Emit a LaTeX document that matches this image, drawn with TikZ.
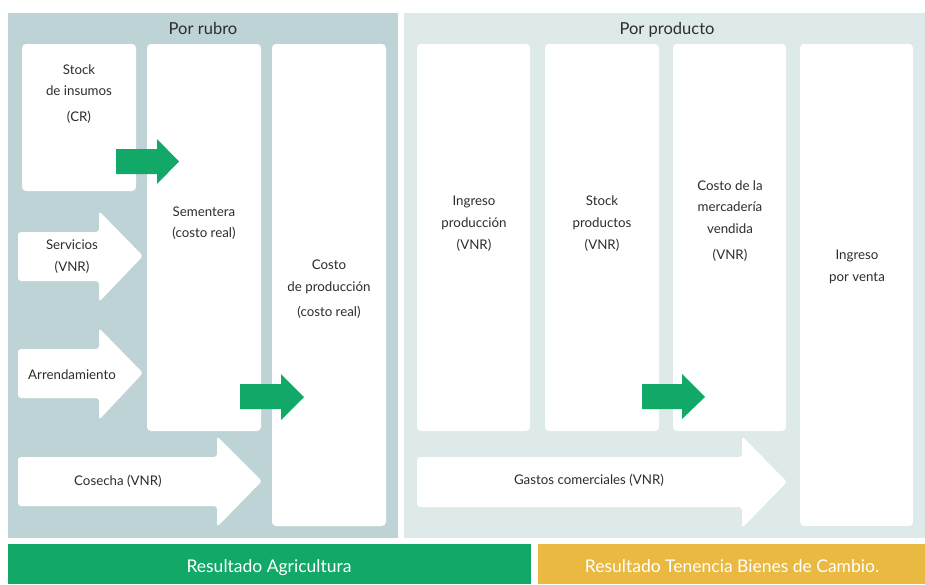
\documentclass[tikz,border=0pt]{standalone}
\usepackage{fontspec}
\setmainfont{Lato}
\definecolor{panelL}{RGB}{189,211,213}
\definecolor{panelR}{RGB}{222,233,233}
\definecolor{gr}{RGB}{18,168,104}
\definecolor{yl}{RGB}{233,185,66}
\definecolor{txt}{RGB}{45,45,45}
\begin{document}
\begin{tikzpicture}[x=1pt,y=-1pt,
  box/.style={fill=white,rounded corners=4pt},
  lbl/.style={text=txt,font=\fontsize{13.3}{15}\selectfont,inner sep=0pt,anchor=base},
  ttl/.style={text=txt,font=\fontsize{16.5}{18}\selectfont,inner sep=0pt,anchor=base},
  bar/.style={text=white,font=\fontsize{17.5}{19}\selectfont,inner sep=0pt,anchor=base},
  warrow/.style={fill=white,rounded corners=3pt},
  garrow/.style={fill=gr}]
\useasboundingbox (0,0) rectangle (925,584);
\fill[white] (0,0) rectangle (925,584);
% panels
\fill[panelL] (8,13) rectangle (398,538);
\fill[panelR] (404,13) rectangle (925,538);
\node[ttl] (t1) at (203,34) {Por rubro};
\node[ttl] (t2) at (667,34) {Por producto};
% left boxes
\fill[box] (22,44) rectangle (136,191);
\fill[box] (147,44) rectangle (261,431);
\fill[box] (272,44) rectangle (386,526);
\node[lbl] (s1) at (79,74) {Stock};
\node[lbl] (s2) at (79,95) {de insumos};
\node[lbl] (s3) at (79,121) {(CR)};
\node[lbl] (m1) at (204,216) {Sementera};
\node[lbl] (m2) at (204,237) {(costo real)};
\node[lbl] (c1) at (329,269) {Costo};
\node[lbl] (c2) at (329,291) {de producción};
\node[lbl] (c3) at (329,316) {(costo real)};
% white arrows
\fill[warrow] (18,232) -- (99,232) -- (99,211) -- (143,256) -- (99,302) -- (99,281) -- (18,281) -- cycle;
\node[lbl] (sv1) at (72,249) {Servicios};
\node[lbl] (sv2) at (72,271) {(VNR)};
\fill[warrow] (18,349) -- (99,349) -- (99,328) -- (143,373) -- (99,420) -- (99,398) -- (18,398) -- cycle;
\node[lbl] (ar) at (72,379) {Arrendamiento};
\fill[warrow] (18,457) -- (217,457) -- (217,436) -- (262,481) -- (217,527) -- (217,506) -- (18,506) -- cycle;
\node[lbl] (co) at (118,485) {Cosecha (VNR)};
% green arrows
\fill[garrow] (116,149) -- (157,149) -- (157,139) -- (179,161.5) -- (157,184) -- (157,174) -- (116,174) -- cycle;
\fill[garrow] (240,384) -- (281,384) -- (281,374) -- (304,397) -- (281,420) -- (281,409) -- (240,409) -- cycle;
% right boxes
\fill[box] (417,44) rectangle (530,431);
\fill[box] (545,44) rectangle (659,431);
\fill[box] (673,44) rectangle (786,431);
\fill[box] (800,44) rectangle (913,526);
\node[lbl] (i1) at (474,205) {Ingreso};
\node[lbl] (i2) at (474,227) {producción};
\node[lbl] (i3) at (474,249) {(VNR)};
\node[lbl] (p1) at (602,205) {Stock};
\node[lbl] (p2) at (602,227) {productos};
\node[lbl] (p3) at (602,249) {(VNR)};
\node[lbl] (v1) at (730,190) {Costo de la};
\node[lbl] (v2) at (730,211) {mercadería};
\node[lbl] (v3) at (730,233) {vendida};
\node[lbl] (v4) at (730,259) {(VNR)};
\node[lbl] (iv1) at (857,259) {Ingreso};
\node[lbl] (iv2) at (857,281) {por venta};
\fill[warrow] (417,457) -- (742,457) -- (742,436) -- (787,482) -- (742,528) -- (742,507) -- (417,507) -- cycle;
\node[lbl] (ga) at (589,484) {Gastos comerciales (VNR)};
\fill[garrow] (642,384) -- (682,384) -- (682,374) -- (705,397) -- (682,419) -- (682,409) -- (642,409) -- cycle;
% bottom bars
\fill[gr] (8,544) rectangle (531,584);
\fill[yl] (538,544) rectangle (925,584);
\node[bar] (ra) at (269,572) {Resultado Agricultura};
\node[bar] (rt) at (732,572) {Resultado Tenencia Bienes de Cambio.};
\end{tikzpicture}
\end{document}
